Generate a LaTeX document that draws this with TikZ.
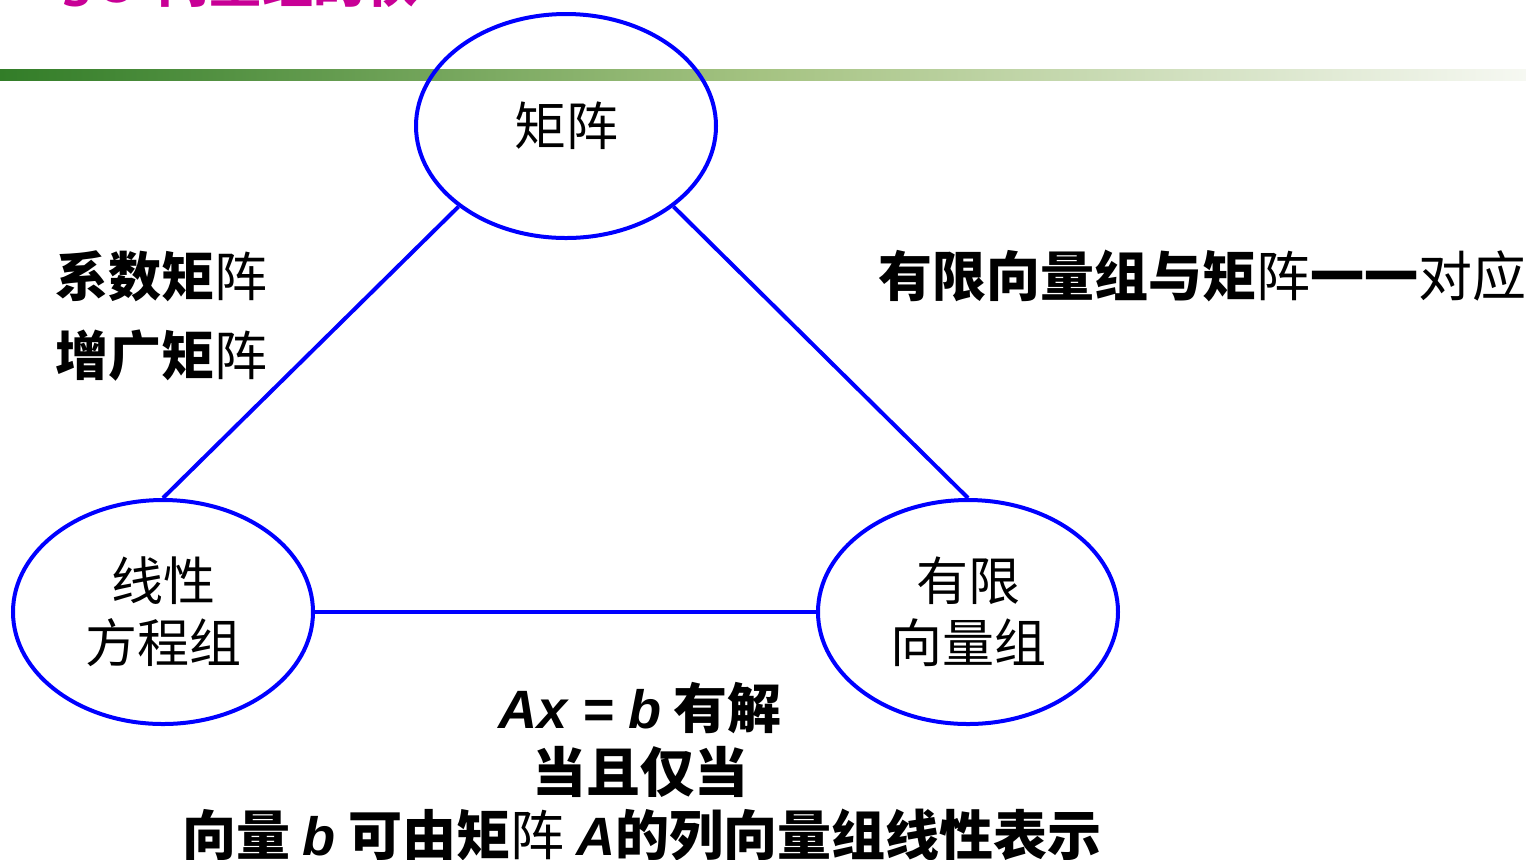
\documentclass[tikz,border=0pt]{standalone}
\usepackage{fontspec}
\setmainfont{Liberation Sans}
\newfontfamily\cjk{Noto Sans CJK SC}
\newfontfamily\lat{Liberation Sans}
\usetikzlibrary{shapes.geometric}
\definecolor{eblue}{RGB}{0,0,255}
\definecolor{tmag}{RGB}{200,0,150}
\definecolor{gdark}{RGB}{50,125,40}
\definecolor{glight}{RGB}{246,248,242}
\definecolor{gmid}{RGB}{165,195,130}
\tikzset{
  oval/.style={draw=eblue, line width=2pt, ellipse, minimum width=150pt, minimum height=112pt, inner sep=0pt, font=\cjk\fontsize{26}{32}\selectfont, align=center},
  link/.style={draw=eblue, line width=2pt},
  lbl/.style={inner sep=0pt, font=\cjk\fontsize{26.5}{32}\selectfont, align=center},
}
\begin{document}
\begin{tikzpicture}[x=0.5pt,y=-0.5pt]
\useasboundingbox (0,0) rectangle (1526,859);
\clip (0,0) rectangle (1526,859);
% title (cut off)
\node[anchor=base east, inner sep=0pt, text=tmag, font=\cjk\bfseries\fontsize{26}{32}\selectfont] (title) at (418,2) {§3\ \ 向量组的秩};
% gradient bar
\shade[left color=gdark, right color=glight, middle color=gmid] (0,69) rectangle (1526,80);
% ellipses
\node[oval] (T) at (566,126) {矩阵};
\node[oval] (L) at (163,612) {线性\\[-1pt]方程组};
\node[oval] (R) at (968,612) {有限\\[-1pt]向量组};
% connectors
\draw[link] (T.south west) -- (L.north);
\draw[link] (T.south east) -- (R.north);
\draw[link] (L.east) -- (R.west);
% labels
\node[lbl, anchor=west] (l1) at (55,276) {{\bfseries 系数矩}阵};
\node[lbl, anchor=west] (l2) at (55,356) {{\bfseries 增广矩}阵};
\node[lbl, anchor=west, font=\cjk\fontsize{27}{32}\selectfont] (l3) at (878,276) {{\bfseries 有限向量组与矩}阵{\bfseries 一一}对应};
\node[lbl, font=\cjk\fontsize{27}{32}\selectfont] (b1) at (640,708) {{\lat\bfseries\itshape Ax = b} {\bfseries 有解}};
\node[lbl, font=\cjk\fontsize{27}{32}\selectfont] (b2) at (640,772) {\bfseries 当且仅当};
\node[lbl, font=\cjk\fontsize{27}{32}\selectfont] (b3) at (642,835) {{\bfseries 向量 {\lat\bfseries\itshape b} 可由矩}阵 {\lat\bfseries\itshape A}{\bfseries 的列向量组线性表示}};
\end{tikzpicture}
\end{document}
